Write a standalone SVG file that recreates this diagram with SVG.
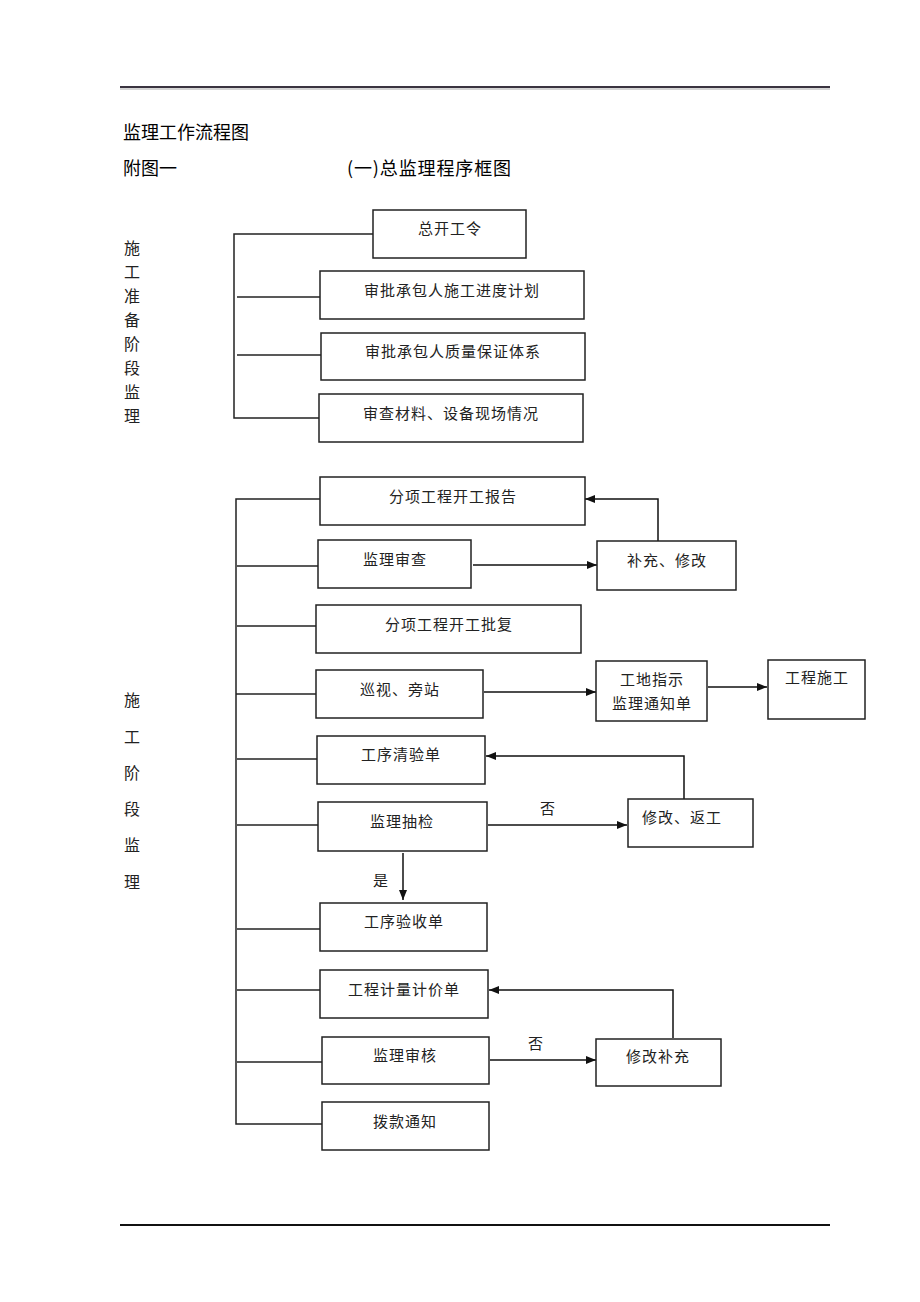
<svg xmlns="http://www.w3.org/2000/svg" width="920" height="1302" viewBox="0 0 920 1302">
<defs>
<marker id="ah" markerWidth="10" markerHeight="8" refX="10" refY="4" orient="auto" markerUnits="userSpaceOnUse">
<path d="M0,0 L10,4 L0,8 Z" fill="#111"/>
</marker>
</defs>
<style>
.box{fill:#fff;stroke:#222;stroke-width:1.5}
.t{font-family:"Liberation Serif","Noto Sans CJK SC",serif;font-size:15px;letter-spacing:1px;fill:#222;text-anchor:middle}
.h{font-family:"Noto Sans CJK SC",sans-serif;font-size:18px;font-weight:normal;fill:#000}
.side{font-family:"Noto Sans CJK SC",sans-serif;font-size:16px;fill:#222;text-anchor:middle}
.ln{fill:none;stroke:#222;stroke-width:1.5}
.ar{fill:none;stroke:#111;stroke-width:1.5;marker-end:url(#ah)}
</style>
<rect width="920" height="1302" fill="#fff"/>
<line x1="120" y1="87" x2="830" y2="87" stroke="#3a3440" stroke-width="2"/>
<line x1="120" y1="89" x2="830" y2="89" stroke="#aaa" stroke-width="1"/>
<line x1="120" y1="1225" x2="830" y2="1225" stroke="#111" stroke-width="2"/>
<text class="h" x="123" y="139">监理工作流程图</text>
<text class="h" x="123" y="175">附图一</text>
<text class="h" x="347" y="175" textLength="164" lengthAdjust="spacing">(一)总监理程序框图</text>
<g id="side1">
<text class="side" x="132" y="254">施</text>
<text class="side" x="132" y="278">工</text>
<text class="side" x="132" y="302">准</text>
<text class="side" x="132" y="326">备</text>
<text class="side" x="132" y="350">阶</text>
<text class="side" x="132" y="374">段</text>
<text class="side" x="132" y="398">监</text>
<text class="side" x="132" y="422">理</text>
</g>
<g id="side2">
<text class="side" x="132" y="706">施</text>
<text class="side" x="132" y="743">工</text>
<text class="side" x="132" y="779">阶</text>
<text class="side" x="132" y="815">段</text>
<text class="side" x="132" y="851">监</text>
<text class="side" x="132" y="888">理</text>
</g>
<g id="connectors">
<path class="ln" d="M373,234 H234 V418 H319"/>
<path class="ln" d="M237,297 H320"/>
<path class="ln" d="M237,355 H321"/>
<path class="ln" d="M320,499 H236 V1124 H322"/>
<path class="ln" d="M237,566 H318"/>
<path class="ln" d="M237,626 H316"/>
<path class="ln" d="M236,694 H316"/>
<path class="ln" d="M237,759 H317"/>
<path class="ln" d="M237,825 H318"/>
<path class="ln" d="M237,929 H320"/>
<path class="ln" d="M237,990 H320"/>
<path class="ln" d="M237,1062 H322"/>
<path class="ar" d="M473,565 H597"/>
<path class="ar" d="M658,541 V499 H585"/>
<path class="ar" d="M484,692 H596"/>
<path class="ar" d="M708,687 H767"/>
<path class="ar" d="M684,799 V756 H486"/>
<path class="ar" d="M488,825 H627"/>
<path class="ar" d="M403,853 V900"/>
<path class="ar" d="M673,1038 V990 H489"/>
<path class="ar" d="M490,1060 H596"/>
<text class="t" x="548" y="814">否</text>
<text class="t" x="381" y="886">是</text>
<text class="t" x="536" y="1049">否</text>
</g>
<g id="n1"><rect class="box" x="373" y="210" width="153" height="48"/><text class="t" x="450" y="234">总开工令</text></g>
<g id="n2"><rect class="box" x="320" y="271" width="264" height="48"/><text class="t" x="452" y="296">审批承包人施工进度计划</text></g>
<g id="n3"><rect class="box" x="321" y="333" width="264" height="47"/><text class="t" x="453" y="357">审批承包人质量保证体系</text></g>
<g id="n4"><rect class="box" x="319" y="394" width="264" height="48"/><text class="t" x="451" y="419">审查材料、设备现场情况</text></g>
<g id="n5"><rect class="box" x="320" y="477" width="265" height="48"/><text class="t" x="453" y="502">分项工程开工报告</text></g>
<g id="n6"><rect class="box" x="318" y="540" width="153" height="48"/><text class="t" x="395" y="565">监理审查</text></g>
<g id="n7"><rect class="box" x="597" y="541" width="139" height="49"/><text class="t" x="667" y="566">补充、修改</text></g>
<g id="n8"><rect class="box" x="316" y="605" width="265" height="48"/><text class="t" x="449" y="630">分项工程开工批复</text></g>
<g id="n9"><rect class="box" x="316" y="670" width="167" height="48"/><text class="t" x="400" y="695">巡视、旁站</text></g>
<g id="n10"><rect class="box" x="596" y="661" width="111" height="60"/><text class="t" x="652" y="685">工地指示</text><text class="t" x="652" y="709">监理通知单</text></g>
<g id="n11"><rect class="box" x="768" y="660" width="97" height="59"/><text class="t" x="817" y="683">工程施工</text></g>
<g id="n12"><rect class="box" x="317" y="736" width="168" height="48"/><text class="t" x="401" y="760">工序清验单</text></g>
<g id="n13"><rect class="box" x="318" y="802" width="169" height="49"/><text class="t" x="402" y="827">监理抽检</text></g>
<g id="n14"><rect class="box" x="628" y="799" width="125" height="48"/><text class="t" x="682" y="823">修改、返工</text></g>
<g id="n15"><rect class="box" x="320" y="903" width="167" height="48"/><text class="t" x="404" y="927">工序验收单</text></g>
<g id="n16"><rect class="box" x="320" y="970" width="168" height="48"/><text class="t" x="404" y="995">工程计量计价单</text></g>
<g id="n17"><rect class="box" x="322" y="1037" width="167" height="47"/><text class="t" x="405" y="1061">监理审核</text></g>
<g id="n18"><rect class="box" x="596" y="1039" width="125" height="47"/><text class="t" x="658" y="1062">修改补充</text></g>
<g id="n19"><rect class="box" x="322" y="1102" width="167" height="48"/><text class="t" x="405" y="1127">拨款通知</text></g>
</svg>
